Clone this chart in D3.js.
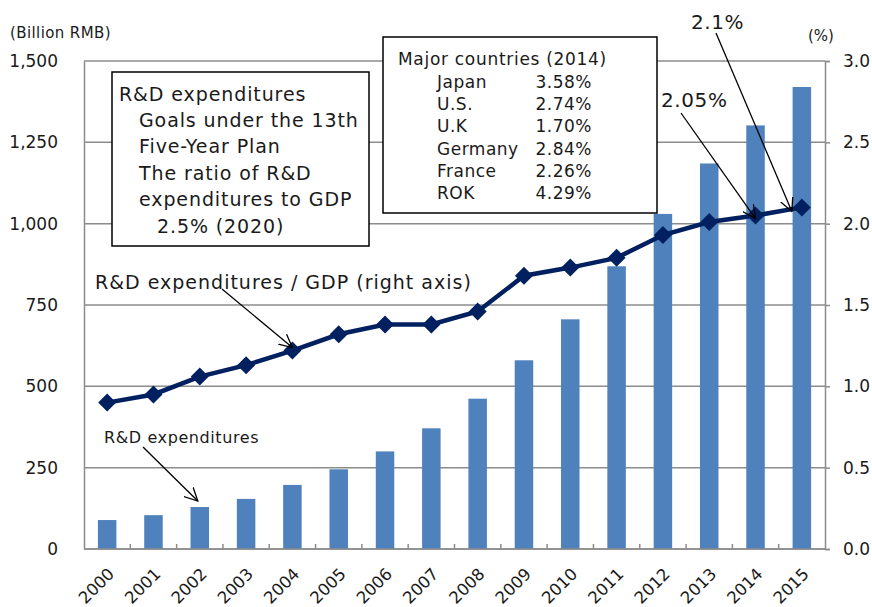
<!DOCTYPE html>
<html>
<head>
<meta charset="utf-8">
<script src="https://cdn.jsdelivr.net/npm/d3@7"></script>
<style>
  body { margin: 0; background: #fff; }
  text { font-family: "DejaVu Sans", Verdana, sans-serif; fill: #1a1a1a; }
</style>
</head>
<body>
<div class="chart"></div>
<script>
var years = ['2000','2001','2002','2003','2004','2005','2006','2007','2008','2009','2010','2011','2012','2013','2014','2015'];
var rdSpending = [89, 104, 129, 154, 197, 245, 300, 371, 462, 580, 706, 869, 1030, 1185, 1302, 1420];
var rdRatio = [0.90, 0.95, 1.06, 1.13, 1.22, 1.32, 1.38, 1.38, 1.46, 1.68, 1.73, 1.79, 1.93, 2.01, 2.05, 2.10];
var leftTicks = [0, 250, 500, 750, 1000, 1250, 1500];
var rightTicks = [0, 0.5, 1.0, 1.5, 2.0, 2.5, 3.0];
var countries = ['Japan', 'U.S.', 'U.K', 'Germany', 'France', 'ROK'];
var countryRatios = ['3.58%', '2.74%', '1.70%', '2.84%', '2.26%', '4.29%'];
var goalLines = ['R&D expenditures', 'Goals under the 13th', 'Five-Year Plan', 'The ratio of R&D', 'expenditures to GDP', '2.5% (2020)'];

var margin = { top: 61, right: 47, bottom: 58, left: 84 };
var fullWidth = 872, fullHeight = 607;
var width = fullWidth - margin.left - margin.right;
var height = fullHeight - margin.top - margin.bottom;

var root = d3.select('.chart')
  .append('svg')
  .attr('width', fullWidth)
  .attr('height', fullHeight);

root.append('defs').append('marker')
  .attr('id', 'arrow')
  .attr('viewBox', '0 0 14 14')
  .attr('refX', 13).attr('refY', 7)
  .attr('markerWidth', 14).attr('markerHeight', 14)
  .attr('markerUnits', 'userSpaceOnUse')
  .attr('orient', 'auto')
  .append('path')
  .attr('d', 'M0,0.5 L13,7 L0,13.5')
  .style('fill', 'none')
  .style('stroke', '#000')
  .style('stroke-width', 1.3);

var svg = root.append('g')
  .attr('transform', `translate(${margin.left}, ${margin.top})`);

var xScale = d3.scaleBand().domain(years).range([0, width]);
var yLeft = d3.scaleLinear().domain([0, 1500]).range([height, 0]);
var yRight = d3.scaleLinear().domain([0, 3]).range([height, 0]);

// gridlines
svg.selectAll('.grid')
  .data(leftTicks)
  .enter()
  .append('line')
  .attr('x1', 0).attr('x2', width)
  .attr('y1', d => yLeft(d)).attr('y2', d => yLeft(d))
  .style('stroke', '#8c8c8c')
  .style('stroke-width', 1.5);

// bars
var barW = 18.5;
svg.selectAll('.bar')
  .data(rdSpending)
  .enter()
  .append('rect')
  .attr('x', (d, i) => xScale(years[i]) + xScale.bandwidth() / 2 - barW / 2)
  .attr('y', d => yLeft(d))
  .attr('width', barW)
  .attr('height', d => height - yLeft(d))
  .style('fill', '#4f81bd');

// axes
var leftAxis = svg.append('g')
  .call(d3.axisLeft(yLeft).tickValues(leftTicks).tickSize(0).tickPadding(26).tickFormat(d3.format(',')));
leftAxis.select('.domain').style('stroke', '#8c8c8c').style('stroke-width', 1.5);
leftAxis.selectAll('text').style('font-size', '17px');

var rightAxis = svg.append('g')
  .attr('transform', `translate(${width}, 0)`)
  .call(d3.axisRight(yRight).tickValues(rightTicks).tickSize(5).tickPadding(13).tickFormat(d3.format('.1f')));
rightAxis.select('.domain').style('stroke', '#8c8c8c').style('stroke-width', 1.5);
rightAxis.selectAll('line').style('stroke', '#8c8c8c').style('stroke-width', 1.5);
rightAxis.selectAll('text').style('font-size', '17px');

// bottom axis: inner ticks at band boundaries
svg.append('line')
  .attr('x1', 0).attr('x2', width)
  .attr('y1', height).attr('y2', height)
  .style('stroke', '#8c8c8c').style('stroke-width', 1.5);
svg.selectAll('.xtick')
  .data(years.slice(1))
  .enter()
  .append('line')
  .attr('x1', d => xScale(d)).attr('x2', d => xScale(d))
  .attr('y1', height).attr('y2', height - 5)
  .style('stroke', '#8c8c8c').style('stroke-width', 1.5);

svg.selectAll('.xlabel')
  .data(years)
  .enter()
  .append('text')
  .attr('transform', d => `translate(${xScale(d) + xScale.bandwidth() / 2 + 4}, ${height + 22}) rotate(-45)`)
  .attr('dy', '0.35em')
  .style('text-anchor', 'end')
  .style('font-size', '16.5px')
  .text(d => d);

// ratio line
var line = d3.line()
  .x((d, i) => xScale(years[i]) + xScale.bandwidth() / 2)
  .y(d => yRight(d));

svg.append('path')
  .datum(rdRatio)
  .attr('d', line)
  .style('fill', 'none')
  .style('stroke', '#002060')
  .style('stroke-width', 4.5);

svg.selectAll('.dot')
  .data(rdRatio)
  .enter()
  .append('path')
  .attr('transform', (d, i) => `translate(${xScale(years[i]) + xScale.bandwidth() / 2}, ${yRight(d)})`)
  .attr('d', 'M0,-9 L9,0 L0,9 L-9,0Z')
  .style('fill', '#002060');

// unit labels
root.append('text').attr('x', 10).attr('y', 33).attr('dy', '0.35em')
  .style('font-size', '15px').style('letter-spacing', '0.4px').text('(Billion RMB)');
root.append('text').attr('x', 808).attr('y', 36).attr('dy', '0.35em')
  .style('font-size', '15px').text('(%)');

// goal box
drawBox(root, 112, 72, 257, 174);
goalLines.forEach((t, i) => {
  var x = i == 0 ? 119 : (i == 5 ? 157 : 139);
  root.append('text')
    .attr('x', x).attr('y', 94 + i * 26.4)
    .attr('dy', '0.35em')
    .style('font-size', '19px')
    .style('letter-spacing', '0.9px')
    .text(t);
});

// countries box
drawBox(root, 383, 37, 274, 176);
root.append('text').attr('x', 398).attr('y', 59).attr('dy', '0.35em')
  .style('font-size', '17px').style('letter-spacing', '0.7px').text('Major countries (2014)');
countries.forEach((c, i) => {
  root.append('text').attr('x', 437).attr('y', 82 + i * 22.2).attr('dy', '0.35em')
    .style('font-size', '17px').style('letter-spacing', '0.5px').text(c);
  root.append('text').attr('x', 592).attr('y', 82 + i * 22.2).attr('dy', '0.35em')
    .style('text-anchor', 'end')
    .style('font-size', '17px').style('letter-spacing', '0.5px').text(countryRatios[i]);
});

// annotations
function cx(i) { return margin.left + xScale(years[i]) + xScale.bandwidth() / 2; }

root.append('text').attr('x', 95).attr('y', 282).attr('dy', '0.35em')
  .style('font-size', '19px').style('letter-spacing', '1px').text('R&D expenditures / GDP (right axis)');
drawArrow(root, 222, 289, cx(4), margin.top + yRight(rdRatio[4]) - 3);

root.append('text').attr('x', 104).attr('y', 437).attr('dy', '0.35em')
  .style('font-size', '16px').style('letter-spacing', '0.6px').text('R&D expenditures');
drawArrow(root, 143, 447, cx(2) - 2, margin.top + yLeft(rdSpending[2]) - 6);

root.append('text').attr('x', 661).attr('y', 100).attr('dy', '0.35em')
  .style('font-size', '20px').style('letter-spacing', '0.6px').text('2.05%');
drawArrow(root, 681, 113, cx(14), margin.top + yRight(rdRatio[14]) + 3);

root.append('text').attr('x', 691).attr('y', 22).attr('dy', '0.35em')
  .style('font-size', '20px').style('letter-spacing', '0.6px').text('2.1%');
drawArrow(root, 716, 33, cx(15) - 10, margin.top + yRight(rdRatio[15]) + 4);

function drawBox(sel, x, y, w, h) {
  sel.append('rect')
    .attr('x', x).attr('y', y)
    .attr('width', w).attr('height', h)
    .style('fill', '#fff')
    .style('stroke', '#000')
    .style('stroke-width', 1.5);
}

function drawArrow(sel, x1, y1, x2, y2) {
  sel.append('line')
    .attr('x1', x1).attr('y1', y1)
    .attr('x2', x2).attr('y2', y2)
    .attr('marker-end', 'url(#arrow)')
    .style('stroke', '#000')
    .style('stroke-width', 1.3);
}
</script>
</body>
</html>
